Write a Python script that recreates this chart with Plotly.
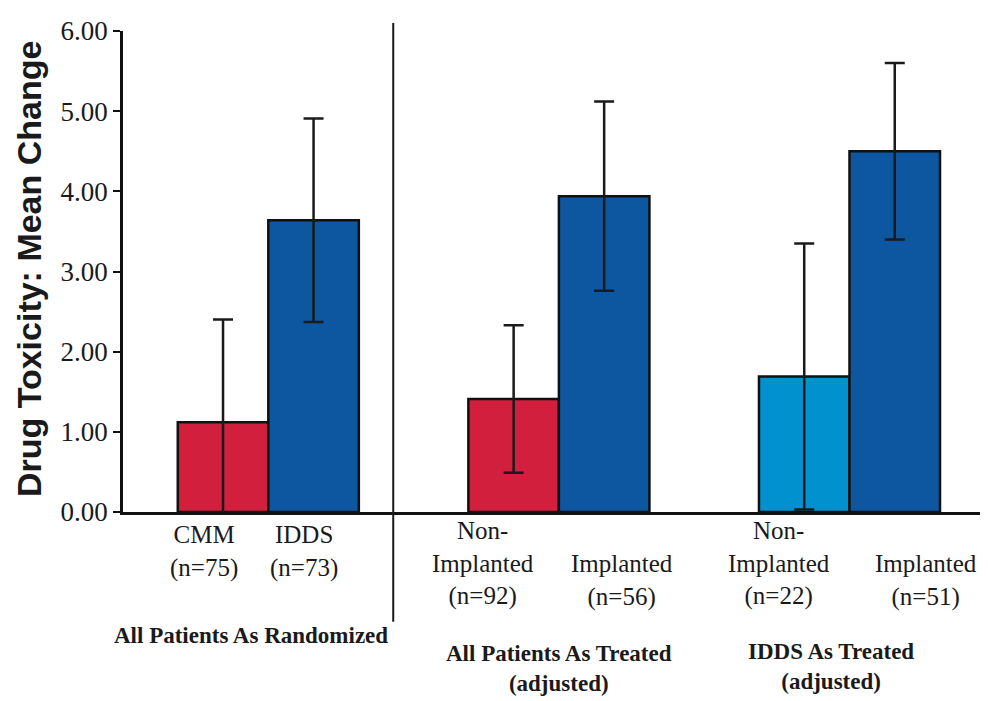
import plotly.graph_objects as go

# ---- data ----
categories = ["CMM<br>(n=75)", "IDDS<br>(n=73)",
              "Non-<br>Implanted<br>(n=92)", "Implanted<br>(n=56)",
              "Non-<br>Implanted<br>(n=22)", "Implanted<br>(n=51)"]
group_of = [0, 0, 1, 1, 2, 2]
index_in_group = [0, 1, 0, 1, 0, 1]
group_names = ["All Patients As Randomized",
               "All Patients As Treated<br>(adjusted)",
               "IDDS As Treated<br>(adjusted)"]
mean_change = [1.12, 3.64, 1.41, 3.94, 1.69, 4.50]
error_sd = [1.28, 1.27, 0.92, 1.18, 1.66, 1.10]
y_ticks = [0, 1, 2, 3, 4, 5, 6]

# ---- styling ----
bar_colors = ["#D11F3D", "#0D57A1", "#D11F3D", "#0D57A1", "#0091CE", "#0D57A1"]
GROUP_STEP = 3.21
xpos = [g * GROUP_STEP + i for g, i in zip(group_of, index_in_group)]

BODY = 8  # page body margin offsets the figure
REF_TOP, REF_BOTTOM = 25, 512
PH = REF_BOTTOM - REF_TOP


def py(pix):
    return (REF_BOTTOM - pix) / PH


fig = go.Figure()
fig.add_trace(go.Bar(
    x=xpos, y=mean_change, width=1.0,
    marker=dict(color=bar_colors, line=dict(color="#111111", width=2.5)),
    error_y=dict(type="data", array=error_sd, visible=True,
                 color="#1a1a1a", thickness=2.5, width=10),
    showlegend=False, hoverinfo="skip",
))

serif = "Liberation Serif, Times New Roman, serif"
label_top_px = [519, 519, 515, 548, 515, 548]
label_xshift = [-19, -10, -31, 18, -25, 31]
for xv, lab, tp, xs in zip(xpos, categories, label_top_px, label_xshift):
    fig.add_annotation(x=xv, y=py(tp), xref="x", yref="paper", text=lab,
                       showarrow=False, yanchor="top", xanchor="center",
                       xshift=xs,
                       font=dict(family=serif, size=25, color="#1a1a1a"))

group_center_px_y = [637, 670, 668]
group_xshift = [-17, 0, -18]
for g, name in enumerate(group_names):
    members = [x for x, gg in zip(xpos, group_of) if gg == g]
    cx = sum(members) / len(members)
    fig.add_annotation(x=cx, y=py(group_center_px_y[g]), xref="x", yref="paper",
                       text="<b>" + name + "</b>", showarrow=False,
                       xanchor="center", yanchor="middle", xshift=group_xshift[g],
                       font=dict(family=serif, size=23, color="#1a1a1a"))

# divider line between first group and the rest
div_x = xpos[1] + 0.88
fig.add_shape(type="line", xref="x", yref="paper", x0=div_x, x1=div_x,
              y0=py(623), y1=py(17), line=dict(color="#1a1a1a", width=2))

# y axis title
fig.add_annotation(x=-0.1087, y=0.507, xref="paper", yref="paper",
                   text="<b>Drug Toxicity: Mean Change</b>", textangle=-90,
                   showarrow=False, xanchor="center", yanchor="middle",
                   font=dict(family="Liberation Sans, Arial, sans-serif", size=34,
                             color="#1a1a1a"))

fig.update_layout(
    width=988, height=701,
    margin=dict(l=123 - BODY, r=BODY, t=REF_TOP - BODY, b=701 - (REF_BOTTOM - BODY)),
    plot_bgcolor="white", paper_bgcolor="white",
    xaxis=dict(range=[-1.105, 8.45], showgrid=False, zeroline=False,
               showticklabels=False, ticks="", showline=True,
               linecolor="#111111", linewidth=3),
    yaxis=dict(range=[0, 6], tickvals=y_ticks, tickformat=".2f",
               showgrid=False, zeroline=False, showline=True,
               linecolor="#111111", linewidth=2.5, ticks="outside",
               ticklen=7, tickwidth=2, tickcolor="#111111",
               tickfont=dict(family=serif, size=27, color="#1a1a1a")),
)

fig.write_html("out.html")
